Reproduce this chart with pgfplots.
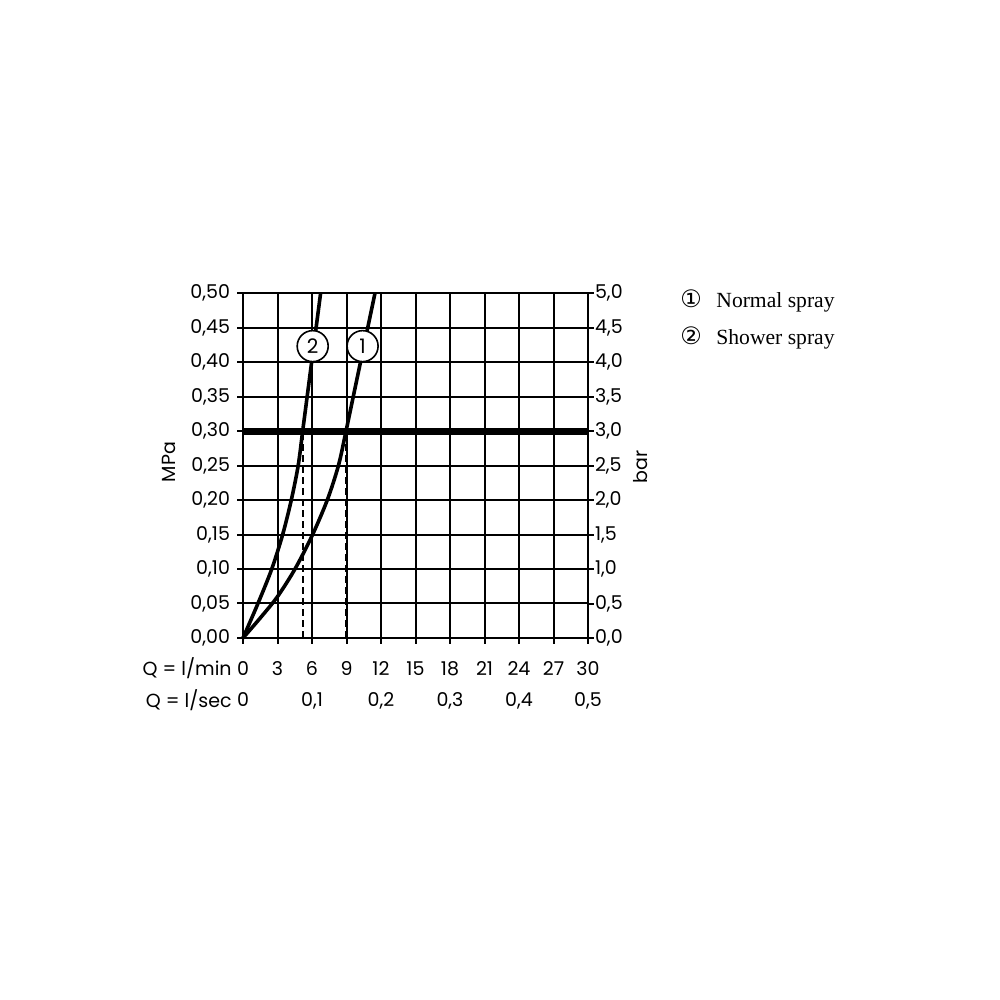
\documentclass[border=0pt]{standalone}
\usepackage{pgfplots}
\pgfplotsset{compat=1.18}
\usepackage{fontspec}
\setmainfont{Poppins}
\newfontfamily\legfont{Liberation Serif}
\newfontfamily\symfont{DejaVu Sans}
\begin{document}
\begin{tikzpicture}
\useasboundingbox (-121.5pt,-181pt) rectangle (378.5pt,319pt);
\begin{axis}[
  at={(0,0)}, anchor=south west,
  scale only axis, width=172.5pt, height=172.5pt,
  xmin=0, xmax=30, ymin=0, ymax=0.5,
  xtick={0,3,6,9,12,15,18,21,24,27,30},
  xticklabels={0,3,6,9,12,15,18,21,24,27,30},
  ytick={0,0.05,0.1,0.15,0.2,0.25,0.3,0.35,0.4,0.45,0.5},
  yticklabels={{0,00},{0,05},{0,10},{0,15},{0,20},{0,25},{0,30},{0,35},{0,40},{0,45},{0,50}},
  xtick pos=bottom, ytick pos=left,
  tick align=outside, major tick length=3pt,
  grid=major, grid style={black, line width=1pt},
  axis line style={black, line width=1pt},
  tick style={black, line width=1pt},
  ticklabel style={font=\fontsize{9.5}{10}\selectfont},
  xticklabel style={anchor=base, yshift=-16pt},
  clip=false,
]
\addplot[black, line width=3.5pt] coordinates {(0,0.3) (30,0.3)};
\addplot[black, line width=0.9pt, dash pattern=on 3.5pt off 2pt] coordinates {(5.2,0) (5.2,0.3)};
\addplot[black, line width=0.9pt, dash pattern=on 3.5pt off 2pt] coordinates {(8.95,0) (8.95,0.3)};
% Normal spray
\addplot[black, line width=1.8pt, smooth, tension=0.5] coordinates {
 (0,0) (1.5,0.029) (3,0.06) (4.52,0.10) (6,0.148) (7.33,0.20) (8.3,0.25)
 (8.96,0.30) (9.59,0.35) (10.22,0.40) (10.85,0.45) (11.48,0.50)};
% Shower spray
\addplot[black, line width=1.8pt, smooth, tension=0.5] coordinates {
 (0,0) (1.3,0.05) (2.5,0.10) (3.45,0.15) (4.2,0.20) (4.8,0.25)
 (5.19,0.30) (5.58,0.35) (5.97,0.40) (6.36,0.45) (6.75,0.50)};
\node[circle, draw=black, fill=white, line width=0.8pt, minimum size=15.5pt, inner sep=0pt,
  font=\fontsize{10}{12}\selectfont] at (axis cs:6.06,0.423) {2};
\node[circle, draw=black, fill=white, line width=0.8pt, minimum size=15.5pt, inner sep=0pt,
  font=\fontsize{10}{12}\selectfont] at (axis cs:10.4,0.423) {1};
\end{axis}
\begin{axis}[
  at={(0,0)}, anchor=south west,
  scale only axis, width=172.5pt, height=172.5pt,
  xmin=0, xmax=0.5, ymin=0, ymax=5,
  axis y line*=right, axis x line*=bottom,
  xtick={0,0.1,0.2,0.3,0.4,0.5},
  xticklabels={0,{0,1},{0,2},{0,3},{0,4},{0,5}},
  ytick={0,0.5,1,1.5,2,2.5,3,3.5,4,4.5,5},
  yticklabels={{0,0},{0,5},{1,0},{1,5},{2,0},{2,5},{3,0},{3,5},{4,0},{4,5},{5,0}},
  tick align=outside, major tick length=3pt,
  axis line style={black, line width=1pt},
  ytick style={black, line width=1pt},
  xtick style={draw=none},
  ticklabel style={font=\fontsize{9.5}{10}\selectfont},
  xticklabel style={anchor=base, yshift=-31pt},
  yticklabel style={xshift=-3pt},
]
\end{axis}
\node[rotate=90, font=\fontsize{9.5}{10}\selectfont] at (-37pt,88pt) {MPa};
\node[rotate=90, font=\fontsize{9.5}{10}\selectfont] at (199pt,85.5pt) {bar};
\node[anchor=base east, font=\fontsize{9.5}{10}\selectfont, inner sep=0pt] at (-5.5pt,-19pt) {Q = l/min};
\node[anchor=base east, font=\fontsize{9.5}{10}\selectfont, inner sep=0pt] at (-5.5pt,-34.5pt) {Q = l/sec};
\node[anchor=base, inner sep=0pt, font=\symfont\fontsize{12}{14}\selectfont] at (224pt,165pt) {①};
\node[anchor=base, inner sep=0pt, font=\symfont\fontsize{12}{14}\selectfont] at (224pt,146.5pt) {②};
\node[anchor=base west, inner sep=0pt, font=\legfont\fontsize{10.8}{12}\selectfont] at (236.5pt,165pt) {Normal spray};
\node[anchor=base west, inner sep=0pt, font=\legfont\fontsize{10.8}{12}\selectfont] at (236.5pt,146.5pt) {Shower spray};
\end{tikzpicture}
\end{document}
